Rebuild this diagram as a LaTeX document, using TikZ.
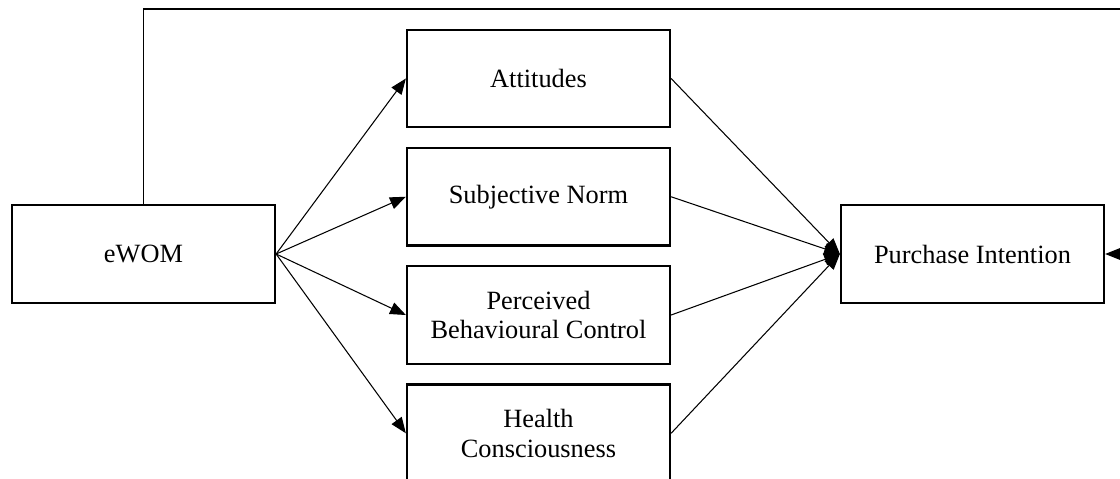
\documentclass[tikz,border=0pt]{standalone}
\usepackage{fontspec}
\setmainfont{Liberation Serif}
\usepackage{tikz}
\usetikzlibrary{arrows.meta,positioning}

\begin{document}
\begin{tikzpicture}[
    x=0.02cm,
    y=-0.02cm,
    >={Triangle[length=9pt,width=7pt]},
    font=\fontsize{15}{17}\selectfont,
    block/.style={
		rectangle,
		draw=black,
		line width=1.3pt,
		text centered,
		align=center,
		minimum width=5.26cm,
		minimum height=1.95cm,
		fill=white
	},
	link/.style={
		->,
		line width=0.6pt
	}
  ]
    \useasboundingbox (0,0) rectangle (1120,479);

    % We start by placing the blocks
  \node [block] (ewom) at (143.5,254) {eWOM};

  \node [block] (attitudes) at (538.5,78.5) {Attitudes};
  \node [block, below=0.37cm of attitudes] (norm) {Subjective Norm};
  \node [block, below=0.37cm of norm] (control) {Perceived\\Behavioural Control};
  \node [block, below=0.37cm of control] (health) {Health\\Consciousness};

  \node [block] (intention) at (972.5,254) {Purchase Intention};

  % then the paths
  \foreach \n in {attitudes,norm,control,health} {
    \draw [link] (ewom.east) -- (\n.west);
    \draw [link] (\n.east) -- (intention.west);
  }

  \coordinate (corner) at (1136,9);
  \draw [link] (ewom.north) |- (corner) |- (intention.east);

\end{tikzpicture}
\end{document}
